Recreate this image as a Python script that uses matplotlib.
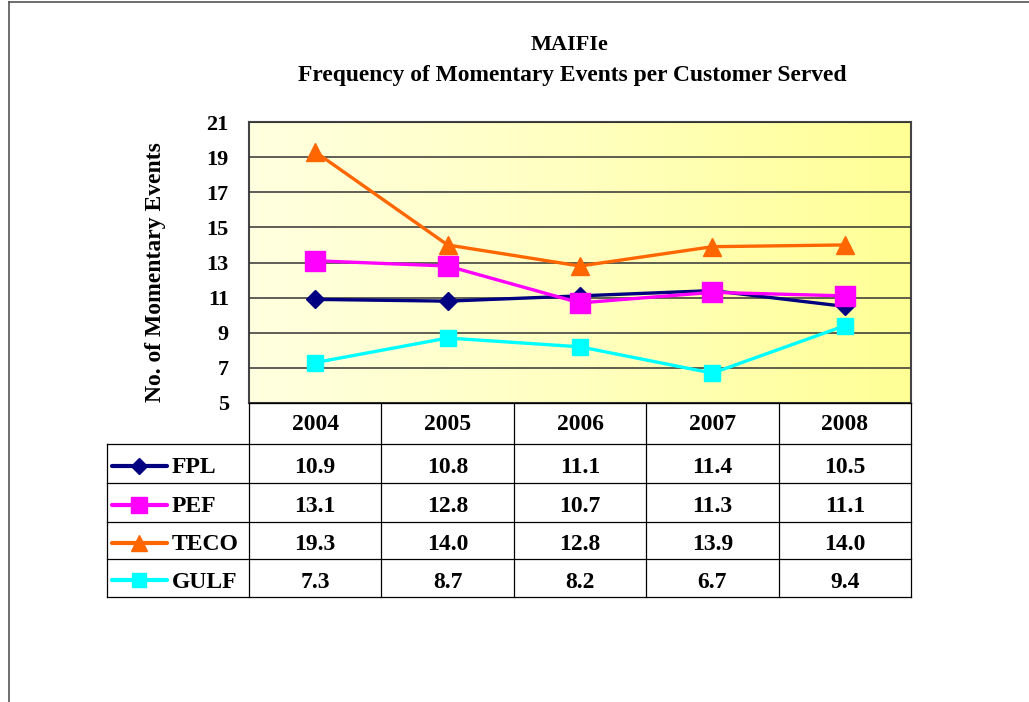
import matplotlib
matplotlib.use('Agg')
import matplotlib.pyplot as plt
import numpy as np
from matplotlib.lines import Line2D

plt.rcParams['font.family'] = 'Liberation Serif'
plt.rcParams['font.weight'] = 'bold'

years = ['2004', '2005', '2006', '2007', '2008']
fpl = [10.9, 10.8, 11.1, 11.4, 10.5]
pef = [13.1, 12.8, 10.7, 11.3, 11.1]
teco = [19.3, 14.0, 12.8, 13.9, 14.0]
gulf = [7.3, 8.7, 8.2, 6.7, 9.4]

# name, values, colour, marker, size on chart, size in table key
series = [
    ('FPL', fpl, '#000080', 'D', 9, 8),
    ('PEF', pef, '#FF00FF', 's', 15, 12),
    ('TECO', teco, '#FF6600', '^', 13, 11),
    ('GULF', gulf, '#00FFFF', 's', 12, 10),
]

W, H = 1029, 702
fig = plt.figure(figsize=(W / 100, H / 100), dpi=100)


def fx(px):
    return px / W


def fy(py):
    return 1 - py / H


# page frame
fig.add_artist(Line2D([fx(9), fx(9)], [0, fy(2)], color='#555555', lw=1.2))
fig.add_artist(Line2D([fx(9), 1], [fy(2), fy(2)], color='#555555', lw=1.2))

# plot area
left, right, top, bottom = 249, 911, 122, 403
ax = fig.add_axes([fx(left), fy(bottom), fx(right - left), (bottom - top) / H])
grad = np.linspace(0, 1, 256).reshape(1, -1)
cmap = matplotlib.colors.LinearSegmentedColormap.from_list('bg', ['#FFFFE0', '#FFFFC0', '#FFFF96'])
ax.imshow(grad, extent=[0, 1, 0, 1], transform=ax.transAxes, aspect='auto', cmap=cmap, zorder=0)

x = np.arange(len(years))
for name, vals, col, mk, ms, ks in series:
    ax.plot(x, vals, color=col, marker=mk, markersize=ms, lw=2.4, zorder=3)

ax.set_xlim(-0.5, len(years) - 0.5)
ax.set_ylim(5, 21)
ax.set_yticks(range(5, 22, 2))
ax.set_xticks([])
ax.tick_params(axis='y', length=0, pad=14.5, labelsize=16)
for lab in ax.get_yticklabels():
    lab.set_fontweight('bold')
ax.grid(axis='y', color='#333333', lw=1.1)
ax.set_axisbelow(False)
for s in ax.spines.values():
    s.set_color('#444444')
    s.set_linewidth(1.5)
fig.text(fx(155), fy(272), 'No. of Momentary Events', rotation=90, ha='center', va='center',
         fontsize=17, fontweight='bold')

# titles
fig.text(fx(570), fy(45), 'MAIFIe', ha='center', va='center', fontsize=16, fontweight='bold')
fig.text(fx(572), fy(75), 'Frequency of Momentary Events per Customer Served', ha='center', va='center',
         fontsize=16.9, fontweight='bold')

# data table
tab_left = 107
col_edges = np.linspace(left, right, len(years) + 1)
row_edges = [403, 444, 483, 522, 559, 597]
lc = 'black'
lw = 0.9
fig.add_artist(Line2D([fx(left), fx(right)], [fy(row_edges[0])] * 2, color=lc, lw=lw))
for ry in row_edges[1:]:
    fig.add_artist(Line2D([fx(tab_left), fx(right)], [fy(ry)] * 2, color=lc, lw=lw))
fig.add_artist(Line2D([fx(tab_left)] * 2, [fy(row_edges[1]), fy(row_edges[-1])], color=lc, lw=lw))
for cx in col_edges:
    fig.add_artist(Line2D([fx(cx)] * 2, [fy(row_edges[0]), fy(row_edges[-1])], color=lc, lw=lw))

centers = (col_edges[:-1] + col_edges[1:]) / 2
hy = (row_edges[0] + row_edges[1]) / 2 + 1
for cx, yr in zip(centers, years):
    fig.text(fx(cx), fy(hy), yr, ha='center', va='center', fontsize=17, fontweight='bold')

for i, (name, vals, col, mk, ms, ks) in enumerate(series):
    ry = (row_edges[i + 1] + row_edges[i + 2]) / 2
    fig.add_artist(Line2D([fx(112), fx(167)], [fy(ry + 2)] * 2, color=col, lw=3, solid_capstyle='round'))
    fig.add_artist(Line2D([fx(139)], [fy(ry + 2)], color=col, marker=mk, markersize=ks, lw=0))
    fig.text(fx(172), fy(ry + 4), name, ha='left', va='center', fontsize=17, fontweight='bold')
    for cx, v in zip(centers, vals):
        fig.text(fx(cx), fy(ry + 4), f'{v:.1f}', ha='center', va='center', fontsize=17, fontweight='bold')

fig.savefig('out.png', dpi=100)
